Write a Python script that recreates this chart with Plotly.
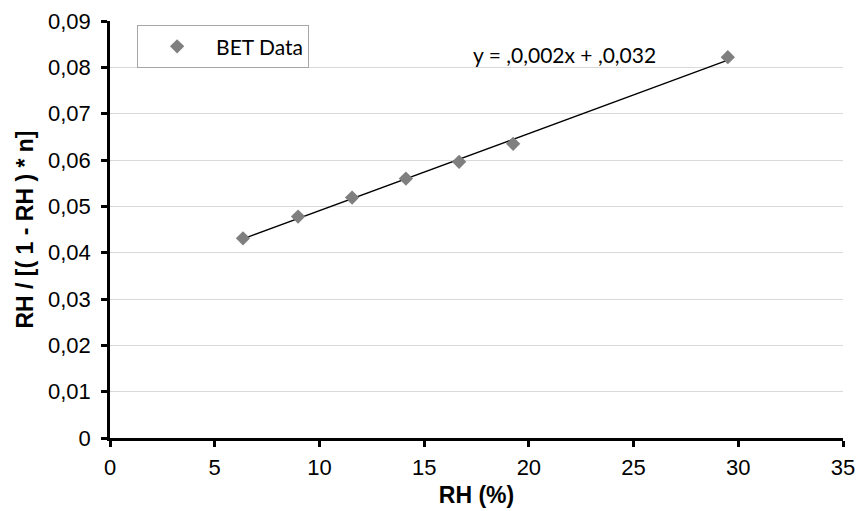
import numpy as np
import plotly.graph_objects as go

rh = [6.35, 8.98, 11.56, 14.13, 16.67, 19.25, 29.5]
bet = [0.0431, 0.0478, 0.0519, 0.0560, 0.0596, 0.0635, 0.0822]
x_ticks = [0, 5, 10, 15, 20, 25, 30, 35]
y_ticks = [0, 0.01, 0.02, 0.03, 0.04, 0.05, 0.06, 0.07, 0.08, 0.09]
y_tick_labels = ["0", "0,01", "0,02", "0,03", "0,04", "0,05", "0,06", "0,07", "0,08", "0,09"]
equation = "y = ,0,002x + ,0,032"

slope, intercept = np.polyfit(rh, bet, 1)
fit_x = [min(rh), max(rh)]
fit_y = [slope * v + intercept for v in fit_x]

fig = go.Figure()
fig.add_trace(go.Scatter(x=fit_x, y=fit_y, mode="lines",
                         line=dict(color="black", width=1.3), showlegend=False, hoverinfo="skip"))
fig.add_trace(go.Scatter(x=rh, y=bet, mode="markers", name="BET Data",
                         marker=dict(symbol="diamond", size=11, color="#7f7f7f")))

fig.add_annotation(x=21.7, y=0.0828, text=equation, showarrow=False,
                   font=dict(family="Lato", size=21, color="black"),
                   xanchor="center", yanchor="middle")

fig.update_layout(
    width=858, height=511,
    margin=dict(l=110, r=15, t=21, b=73),
    paper_bgcolor="white", plot_bgcolor="white",
    font=dict(family="Liberation Sans", size=22, color="black"),
    legend=dict(x=0.037, y=0.99, xanchor="left", yanchor="top",
                bordercolor="#a6a6a6", borderwidth=1, bgcolor="white",
                itemwidth=68,
                font=dict(family="Lato", size=21)),
    xaxis=dict(range=[0, 35], tickvals=x_ticks, ticktext=[str(v) for v in x_ticks],
               automargin=False, ticklabelstandoff=2,
               showgrid=False, zeroline=False, showline=True, linecolor="black", linewidth=2.5,
               ticks="outside", ticklen=6, tickwidth=2.5, tickcolor="black",
               title=dict(text="<b>RH (%)</b>", font=dict(size=23), standoff=8)),
    yaxis=dict(range=[0, 0.09], tickvals=y_ticks, ticktext=y_tick_labels,
               automargin=False, ticklabelstandoff=6,
               showgrid=True, gridcolor="#d9d9d9", gridwidth=1, zeroline=False,
               showline=True, linecolor="black", linewidth=2.5,
               ticks="outside", ticklen=6, tickwidth=2.5, tickcolor="black",
               title=dict(text="<b>RH / [( 1 - RH ) * n]</b>", font=dict(size=23), standoff=8)),
)

fig.write_html("out.html")
